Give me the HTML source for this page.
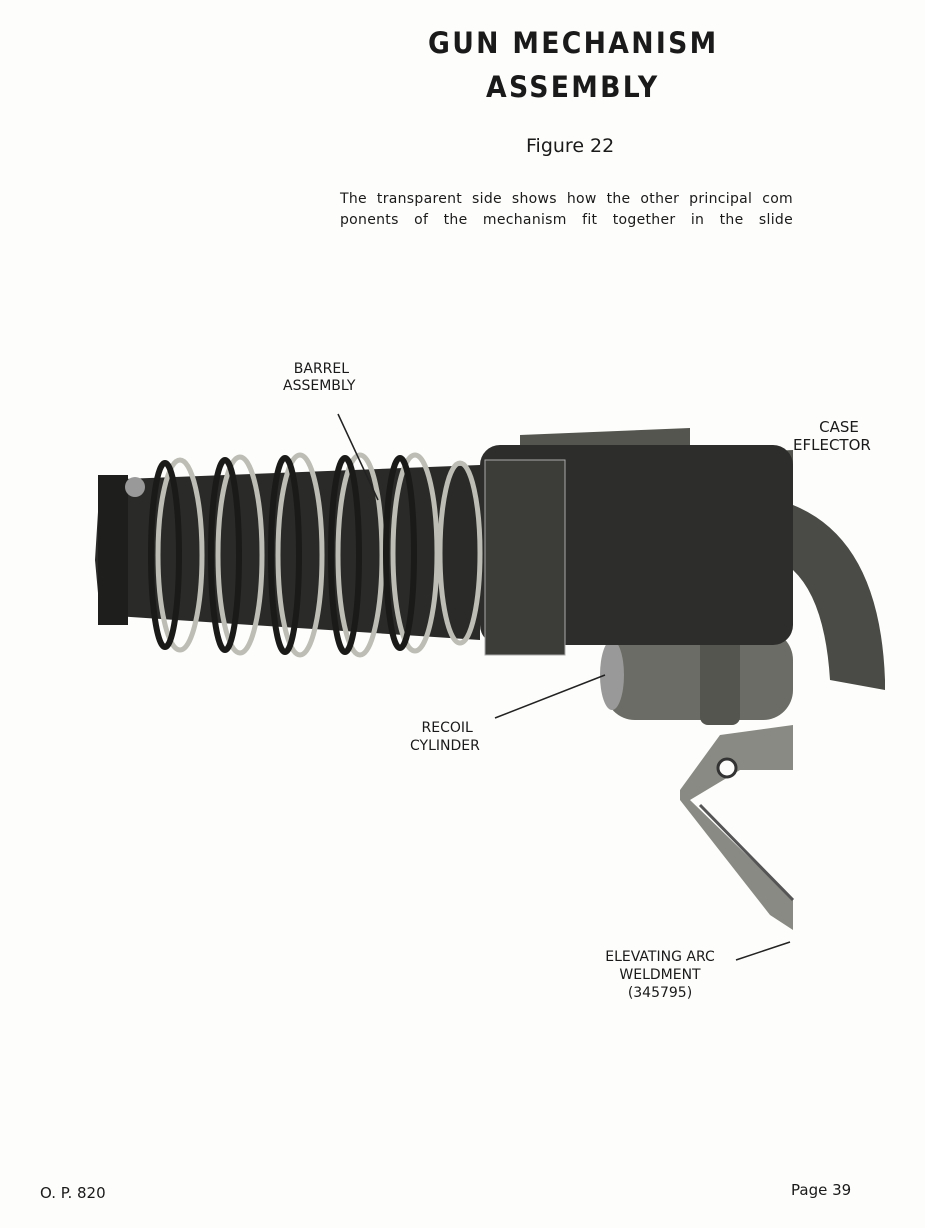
<!DOCTYPE html>
<html><head><meta charset="utf-8"><style>
html,body{margin:0;padding:0;background:#fdfdfb;}
body{width:925px;height:1228px;position:relative;overflow:hidden;font-family:"DejaVu Sans","Liberation Sans",sans-serif;color:#1a1a1a;}
.t{position:absolute;white-space:nowrap;}
.j{position:absolute;left:340px;width:453px;font-size:14px;text-align:justify;text-align-last:justify;white-space:nowrap;letter-spacing:0.3px;}
</style></head><body>
<div class="t" style="left:428px;top:26px;font-size:29px;letter-spacing:2.5px;font-weight:bold;transform:scaleX(0.92);transform-origin:left;">GUN MECHANISM</div>
<div class="t" style="left:486px;top:70px;font-size:29px;letter-spacing:2.5px;font-weight:bold;transform:scaleX(0.92);transform-origin:left;">ASSEMBLY</div>
<div class="t" style="left:526px;top:135px;font-size:19px;">Figure 22</div>
<div class="j" style="top:191px;">The transparent side shows how the other principal com</div>
<div class="j" style="top:212px;">ponents of the mechanism fit together in the slide</div>

<svg width="925" height="1228" style="position:absolute;left:0;top:0">
<!-- elevating arc -->
<path d="M680 790 L720 735 L793 725 L793 930 L770 915 L680 800 Z" fill="#8a8a84"/>
<path d="M690 800 L740 770 L793 770 L793 900 Z" fill="#fdfdfb"/>
<path d="M700 805 L793 900" stroke="#555" stroke-width="3"/>
<circle cx="727" cy="768" r="9" fill="#fdfdfb" stroke="#333" stroke-width="3"/>
<!-- recoil cylinder -->
<rect x="605" y="630" width="188" height="90" rx="30" fill="#6c6c66"/>
<rect x="700" y="625" width="40" height="100" rx="8" fill="#55554f"/>
<ellipse cx="612" cy="675" rx="12" ry="35" fill="#999"/>
<!-- case deflector -->
<path d="M793 505 Q880 540 885 680 L885 690 L830 680 Q825 600 793 570 Z" fill="#4a4a46"/>
<!-- top slide -->
<path d="M520 435 L690 428 L690 455 L793 450 L793 470 L520 470 Z" fill="#555550"/>
<!-- breech -->
<rect x="480" y="445" width="313" height="200" rx="20" fill="#2d2d2b"/>
<rect x="485" y="460" width="80" height="195" fill="#3c3c38" stroke="#aaa" stroke-width="1"/>
<!-- barrel -->
<path d="M100 480 L480 465 L480 640 L100 615 L95 560 Z" fill="#2a2a28"/>
<rect x="98" y="475" width="30" height="150" fill="#1e1e1c"/>
<circle cx="135" cy="487" r="10" fill="#999"/>
<g fill="none" stroke="#bdbdb5" stroke-width="5">
<ellipse cx="180" cy="555" rx="22" ry="95"/>
<ellipse cx="240" cy="555" rx="22" ry="98"/>
<ellipse cx="300" cy="555" rx="22" ry="100"/>
<ellipse cx="360" cy="555" rx="22" ry="100"/>
<ellipse cx="415" cy="553" rx="22" ry="98"/>
<ellipse cx="460" cy="553" rx="20" ry="90"/>
</g>
<g fill="none" stroke="#1a1a18" stroke-width="6">
<ellipse cx="165" cy="555" rx="14" ry="92"/>
<ellipse cx="225" cy="555" rx="14" ry="95"/>
<ellipse cx="285" cy="555" rx="14" ry="97"/>
<ellipse cx="345" cy="555" rx="14" ry="97"/>
<ellipse cx="400" cy="553" rx="14" ry="95"/>
</g>
<g stroke="#222" stroke-width="1.5">
<line x1="338" y1="414" x2="378" y2="500"/>
<line x1="495" y1="718" x2="605" y2="675"/>
<line x1="736" y1="960" x2="790" y2="942"/>
</g>
</svg>

<div class="t" style="left:283px;top:361px;font-size:14px;text-align:center;line-height:17px;">&nbsp;BARREL<br>ASSEMBLY</div>
<div class="t" style="left:793px;top:418px;font-size:15px;text-align:center;line-height:18px;">&nbsp;&nbsp;&nbsp;CASE<br>EFLECTOR</div>
<div class="t" style="left:410px;top:719px;font-size:14px;text-align:center;line-height:18px;">&nbsp;RECOIL<br>CYLINDER</div>
<div class="t" style="left:585px;top:948px;font-size:14px;text-align:center;line-height:18px;width:150px;">ELEVATING ARC<br>WELDMENT<br>(345795)</div>
<div class="t" style="left:40px;top:1184px;font-size:15px;">O. P. 820</div>
<div class="t" style="left:791px;top:1181px;font-size:15px;">Page 39</div>
</body></html>
